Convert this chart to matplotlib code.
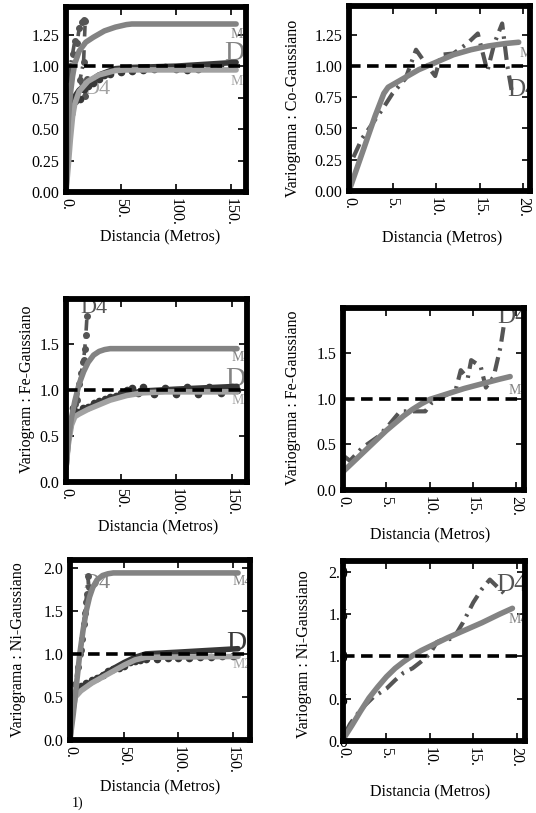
import matplotlib
matplotlib.use("Agg")
import matplotlib.pyplot as plt
from matplotlib.ticker import FuncFormatter

plt.rcParams['font.family'] = ['Liberation Serif', 'DejaVu Serif']
plt.rcParams['font.size'] = 11.5

W, H = 536, 813

# --- Co, large lags ---
co_m4_x = [0, 2, 4, 6, 8, 12, 18, 25, 35, 45, 55, 60, 155]
co_m4_y = [0, 0.55, 0.78, 0.92, 1.02, 1.12, 1.19, 1.23, 1.28, 1.31, 1.33, 1.335, 1.335]
co_m_x = [0, 2, 4, 6, 8, 12, 20, 30, 45, 55, 155]
co_m_y = [0, 0.2, 0.42, 0.6, 0.7, 0.8, 0.88, 0.93, 0.965, 0.97, 0.97]
co_d2m_x = [0, 2, 4, 6, 8, 12, 20, 30, 45, 60, 100, 155]
co_d2m_y = [0, 0.5, 0.66, 0.72, 0.76, 0.81, 0.87, 0.93, 0.98, 0.99, 1.0, 1.03]
co_d2_x = [5, 8, 10, 13, 16, 20, 25, 30, 35, 40, 50, 60, 70, 80, 90, 100, 110, 120, 130, 140, 150]
co_d2_y = [0.62, 0.72, 0.75, 0.74, 0.82, 0.84, 0.87, 0.9, 0.93, 0.94, 0.95, 0.96, 0.97, 0.98, 0.99, 0.98, 0.97, 0.98, 1.0, 1.01, 1.02]
co_d4_x = [2, 4, 6, 8, 10, 12, 14.5, 16, 17.5, 16, 12.7, 17, 19]
co_d4_y = [0.9, 1.0, 1.1, 1.2, 1.18, 1.3, 1.35, 1.37, 1.36, 1.03, 0.89, 0.76, 0.9]

# --- Co, small lags ---
co_s_m_x = [0, 1, 2, 3, 4, 4.5, 6, 8, 10, 12, 14, 16, 18, 19.5]
co_s_m_y = [0.0, 0.2, 0.4, 0.6, 0.78, 0.83, 0.89, 0.97, 1.03, 1.09, 1.13, 1.16, 1.18, 1.19]
co_s_d4_x = [0.5, 1.5, 3.8, 5, 6.5, 7.7, 8.8, 9.9, 10.6, 12, 13.6, 14.8, 15.9, 16.7, 17.6, 18.2, 18.8]
co_s_d4_y = [0.27, 0.42, 0.65, 0.78, 0.9, 1.13, 1.02, 0.92, 1.09, 1.1, 1.18, 1.26, 0.96, 1.18, 1.34, 1.0, 0.76]

# --- Fe, large lags ---
fe_m4_x = [0, 2, 5, 8, 12, 16, 20, 25, 30, 35, 40, 155]
fe_m4_y = [0.15, 0.45, 0.70, 0.88, 1.07, 1.2, 1.3, 1.38, 1.42, 1.44, 1.45, 1.45]
fe_m_x = [0, 2, 5, 8, 12, 20, 30, 40, 55, 70, 90, 155]
fe_m_y = [0.15, 0.4, 0.62, 0.71, 0.74, 0.79, 0.84, 0.89, 0.94, 0.97, 0.98, 0.98]
fe_d2m_x = [0, 2, 5, 8, 12, 20, 30, 40, 55, 70, 100, 155]
fe_d2m_y = [0.15, 0.45, 0.66, 0.73, 0.76, 0.81, 0.86, 0.91, 0.96, 0.99, 1.01, 1.04]
fe_d2_x = [6, 10, 15, 20, 25, 30, 35, 40, 45, 50, 55, 60, 65, 70, 80, 90, 100, 110, 120, 130, 140, 150, 155]
fe_d2_y = [0.8, 0.76, 0.8, 0.82, 0.86, 0.88, 0.9, 0.92, 0.94, 0.97, 1.0, 1.02, 0.97, 1.03, 0.96, 1.02, 0.96, 1.03, 0.96, 1.03, 0.97, 1.03, 1.0]
fe_d4_x = [3, 5, 8, 10, 12, 14, 15, 16, 17, 18, 19]
fe_d4_y = [0.6, 0.7, 0.85, 0.89, 1.07, 1.18, 1.3, 1.33, 1.45, 1.6, 1.8]

# --- Fe, small lags ---
fe_s_m_x = [0, 1, 2, 3, 4, 5, 6, 7, 8, 9, 10, 12, 14, 16, 18, 19.3]
fe_s_m_y = [0.2, 0.29, 0.38, 0.47, 0.56, 0.65, 0.73, 0.81, 0.88, 0.94, 0.99, 1.05, 1.11, 1.16, 1.21, 1.24]
fe_s_d4_x = [0.1, 0.8, 2.2, 4.0, 5.2, 6.6, 7.5, 8.5, 9.5, 10.2, 11.5, 13.0, 13.6, 14.4, 14.8, 15.9, 16.5, 17.4, 18.2, 18.6]
fe_s_d4_y = [0.37, 0.32, 0.46, 0.58, 0.7, 0.86, 0.86, 0.86, 0.86, 0.95, 1.02, 1.09, 1.31, 1.22, 1.42, 1.35, 1.12, 1.24, 1.57, 1.82]

# --- Ni, large lags ---
ni_m4_x = [0, 3, 6, 9, 12, 15, 18, 21, 25, 30, 35, 40, 155]
ni_m4_y = [0, 0.3, 0.65, 1.0, 1.27, 1.5, 1.66, 1.77, 1.86, 1.91, 1.93, 1.94, 1.94]
ni_m_x = [0, 2, 5, 10, 20, 30, 40, 50, 60, 70, 155]
ni_m_y = [0, 0.3, 0.5, 0.57, 0.66, 0.73, 0.8, 0.87, 0.93, 0.96, 0.97]
ni_d2m_x = [0, 2, 5, 10, 20, 30, 40, 50, 60, 70, 100, 155]
ni_d2m_y = [0, 0.45, 0.53, 0.58, 0.67, 0.75, 0.83, 0.9, 0.96, 1.0, 1.02, 1.06]
ni_d2_x = [10, 15, 20, 25, 30, 35, 40, 45, 50, 55, 60, 65, 70, 80, 90, 100, 110, 120, 130, 140, 150]
ni_d2_y = [0.63, 0.66, 0.7, 0.72, 0.75, 0.8, 0.82, 0.84, 0.86, 0.9, 0.92, 0.93, 0.94, 0.94, 0.95, 0.95, 0.95, 0.96, 0.96, 0.97, 0.98]
ni_d4_x = [3, 5, 7, 9, 10, 11.5, 12.5, 13.5, 14.5, 15.5, 16.5, 17.5]
ni_d4_y = [0.45, 0.65, 0.85, 1.0, 1.05, 1.17, 1.35, 1.48, 1.6, 1.7, 1.9, 1.78]

# --- Ni, small lags ---
ni_s_m_x = [0, 1, 2, 3, 4, 5, 6, 7, 8, 9, 10, 12, 14, 16, 18, 19.5]
ni_s_m_y = [0.02, 0.18, 0.35, 0.51, 0.64, 0.76, 0.86, 0.94, 1.01, 1.07, 1.12, 1.22, 1.31, 1.40, 1.50, 1.57]
ni_s_d4_x = [0.3, 0.8, 1.5, 2.5, 3.5, 5, 6, 7, 8, 9, 10, 10.8, 11.5, 12.7, 13.8, 15, 16, 16.9, 17.8, 18.8]
ni_s_d4_y = [0.1, 0.2, 0.3, 0.42, 0.52, 0.62, 0.72, 0.81, 0.86, 0.94, 1.03, 1.17, 1.2, 1.21, 1.40, 1.64, 1.8, 1.91, 1.82, 1.72]

ticks_large = [0, 50, 100, 150]
ticks_small = [0, 5, 10, 15, 20]

C_M4 = '#838383'
C_M = '#a2a2a2'
C_DARK = '#383838'
C_D4 = '#555555'

fig = plt.figure(figsize=(W / 100, H / 100), dpi=100)


def make_ax(l, t, r, b):
    return fig.add_axes([l / W, (H - b) / H, (r - l) / W, (b - t) / H])


def style(ax, xlim, ylim, xt, yt, yfmt, ypad=5):
    ax.set_xlim(*xlim)
    ax.set_ylim(*ylim)
    ax.set_xticks(xt)
    ax.set_yticks(yt)
    ax.xaxis.set_major_formatter(FuncFormatter(lambda v, p: f"{v:.0f}."))
    ax.yaxis.set_major_formatter(FuncFormatter(lambda v, p: yfmt % v))
    ax.tick_params(direction='in', length=5.5, width=1.2, top=True, right=True,
                   labelsize=11.5)
    ax.tick_params(axis='y', pad=ypad)
    ax.tick_params(axis='x', pad=4)
    for lab in ax.get_xticklabels():
        lab.set_rotation(-90)
        lab.set_va('top')
    for s in ax.spines.values():
        s.set_linewidth(4.2)
    ax.plot(xlim, [1, 1], color='black', lw=2.6, ls=(0, (3.2, 1.8)), zorder=2.2)


def label(ax, x, y, s, size, color):
    ax.text(x, y, s, fontsize=size, color=color, clip_on=True, zorder=1.8)


def large_panel(ax, m4x, m4y, mx, my, dmx, dmy, d2x, d2y, d4x, d4y):
    ax.plot(d4x, d4y, color=C_D4, lw=2.6, ls=(0, (3, 1.6, 0.6, 1.6)),
            marker='o', ms=4, zorder=2)
    ax.plot(d2x, d2y, color=C_DARK, lw=0, marker='o', ms=4.5, zorder=2)
    ax.plot(dmx, dmy, color=C_DARK, lw=4, zorder=2, solid_capstyle='round')
    ax.plot(mx, my, color=C_M, lw=4, zorder=2.1, solid_capstyle='round')
    ax.plot(m4x, m4y, color=C_M4, lw=4, zorder=2.1, solid_capstyle='round')


def small_panel(ax, mx, my, d4x, d4y):
    ax.plot(d4x, d4y, color=C_D4, lw=3, ls=(0, (3.5, 1.6, 0.6, 1.6)), zorder=2)
    ax.plot(mx, my, color=C_M4, lw=4, zorder=2.1, solid_capstyle='round')


# row 1: Co
ax1 = make_ax(66, 7, 246, 192)
large_panel(ax1, co_m4_x, co_m4_y, co_m_x, co_m_y, co_d2m_x, co_d2m_y,
            co_d2_x, co_d2_y, co_d4_x, co_d4_y)
style(ax1, (0, 164), (0, 1.47), ticks_large, [0, 0.25, 0.5, 0.75, 1.0, 1.25], "%.2f")
label(ax1, 150, 1.22, "M4", 10, C_M4)
label(ax1, 144, 1.05, "D2", 20, C_M4)
label(ax1, 150, 0.85, "M2", 10, C_M)
label(ax1, 16, 0.78, "D4", 16, C_M)

ax2 = make_ax(349, 6, 530, 191)
small_panel(ax2, co_s_m_x, co_s_m_y, co_s_d4_x, co_s_d4_y)
style(ax2, (0, 20.8), (0, 1.48), ticks_small, [0, 0.25, 0.5, 0.75, 1.0, 1.25], "%.2f")
label(ax2, 19.6, 1.07, "M4", 10, C_M4)
label(ax2, 18.2, 0.76, "D4", 18, C_D4)

# row 2: Fe
ax3 = make_ax(66, 299, 247, 482)
large_panel(ax3, fe_m4_x, fe_m4_y, fe_m_x, fe_m_y, fe_d2m_x, fe_d2m_y,
            fe_d2_x, fe_d2_y, fe_d4_x, fe_d4_y)
style(ax3, (0, 164), (0, 1.99), ticks_large, [0, 0.5, 1.0, 1.5], "%.1f")
label(ax3, 150, 1.32, "M4", 10, C_M4)
label(ax3, 144, 1.04, "D2", 20, C_M4)
label(ax3, 150, 0.85, "M2", 10, C_M)
label(ax3, 13, 1.84, "D4", 16, C_D4)

ax4 = make_ax(343, 308, 524, 490)
small_panel(ax4, fe_s_m_x, fe_s_m_y, fe_s_d4_x, fe_s_d4_y)
style(ax4, (0, 20.9), (0, 1.99), ticks_small, [0, 0.5, 1.0, 1.5], "%.1f")
label(ax4, 19.1, 1.05, "M4", 10, C_M4)
label(ax4, 17.8, 1.83, "D4", 18, C_D4)

# row 3: Ni
ax5 = make_ax(70, 560, 250, 740)
large_panel(ax5, ni_m4_x, ni_m4_y, ni_m_x, ni_m_y, ni_d2m_x, ni_d2m_y,
            ni_d2_x, ni_d2_y, ni_d4_x, ni_d4_y)
style(ax5, (0, 166), (0, 2.09), ticks_large, [0, 0.5, 1.0, 1.5, 2.0], "%.1f")
label(ax5, 150, 1.8, "M4", 10, C_M4)
label(ax5, 144, 1.05, "D2", 20, C_DARK)
label(ax5, 150, 0.84, "M2", 10, C_M)
label(ax5, 12, 1.76, "D4", 16, C_M4)

ax6 = make_ax(343, 561, 525, 741)
small_panel(ax6, ni_s_m_x, ni_s_m_y, ni_s_d4_x, ni_s_d4_y)
style(ax6, (0, 20.95), (0, 2.13), ticks_small, [0, 0.5, 1.0, 1.5, 2.0], "%.1f", ypad=-4)
label(ax6, 19.0, 1.4, "M4", 10, C_M4)
label(ax6, 17.6, 1.77, "D4", 18, C_D4)

# axis titles placed as in the reference
xl = "Distancia (Metros)"
fig.text(160 / W, 1 - 237 / H, xl, ha='center', va='center')
fig.text(442 / W, 1 - 238 / H, xl, ha='center', va='center')
fig.text(158 / W, 1 - 527 / H, xl, ha='center', va='center')
fig.text(430 / W, 1 - 535 / H, xl, ha='center', va='center')
fig.text(160 / W, 1 - 787 / H, xl, ha='center', va='center')
fig.text(430 / W, 1 - 792 / H, xl, ha='center', va='center')

fig.text(293 / W, 1 - 108 / H, "Variograma : Co-Gaussiano", rotation=90, ha='center', va='center')
fig.text(27 / W, 1 - 389 / H, "Variogram : Fe-Gaussiano", rotation=90, ha='center', va='center')
fig.text(293 / W, 1 - 398 / H, "Variograma : Fe-Gaussiano", rotation=90, ha='center', va='center')
fig.text(18 / W, 1 - 650 / H, "Variograma : Ni-Gaussiano", rotation=90, ha='center', va='center')
fig.text(304 / W, 1 - 654 / H, "Variogram : Ni-Gaussiano", rotation=90, ha='center', va='center')
fig.text(78 / W, 1 - 803 / H, "1)", ha='center', va='center', fontsize=10)

fig.savefig("out.png", dpi=100)
